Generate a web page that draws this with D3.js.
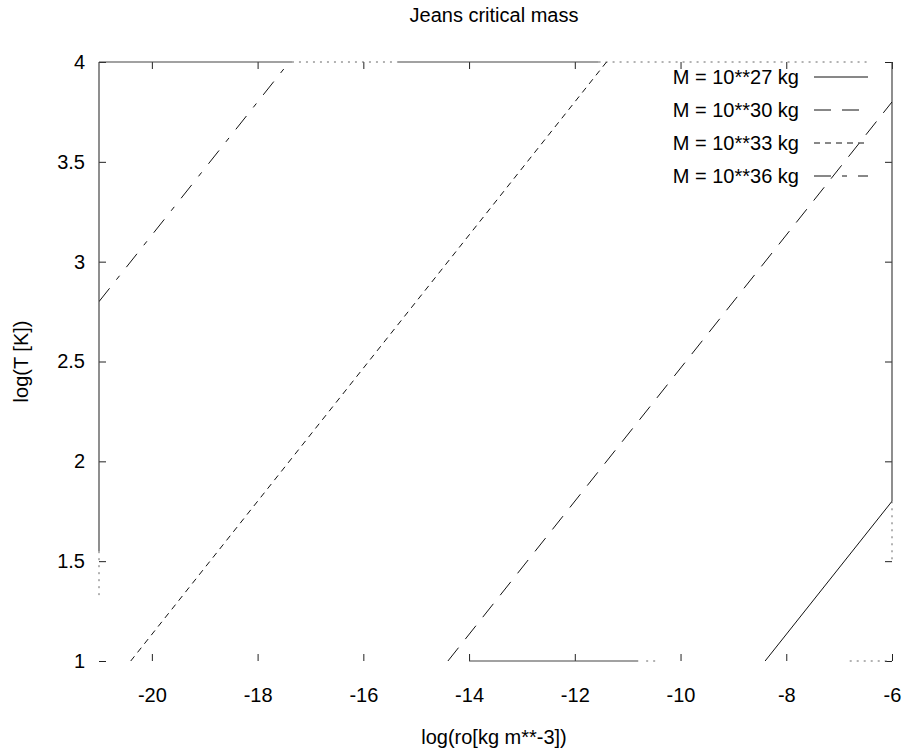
<!DOCTYPE html>
<html>
<head>
<meta charset="utf-8">
<script src="https://cdn.jsdelivr.net/npm/d3@7/dist/d3.min.js"></script>
<style>
  html, body { margin: 0; padding: 0; background: #fff; }
  svg text { font-family: "Liberation Sans", Arial, sans-serif; fill: #000; }
</style>
</head>
<body>
<div id="chart"></div>
<script>
// ---- data ----
const title = "Jeans critical mass";
const xLabel = "log(ro[kg m**-3])";
const yLabel = "log(T [K])";
const xTicks = [-20, -18, -16, -14, -12, -10, -8, -6];
const yTicks = [1, 1.5, 2, 2.5, 3, 3.5, 4];
const xDomain = [-21, -6];
const yDomain = [1, 4];
const seriesNames = ["M = 10**27 kg", "M = 10**30 kg", "M = 10**33 kg", "M = 10**36 kg"];
// endpoints of each line, [log rho, log T]
const m27 = [[-8.4, 1.0], [-6.0, 1.8]];
const m30 = [[-14.4, 1.0], [-6.0, 3.8]];
const m33 = [[-20.4, 1.0], [-11.4, 4.0]];
const m36 = [[-21.0, 2.8], [-17.4, 4.0]];
const seriesData = [m27, m30, m33, m36];

// pieces of the plot border that are visible in the picture (data units)
const frameSolid = [
  [[-21, 4], [-17.35, 4]], [[-15.35, 4], [-11.55, 4]],
  [[-6, 4], [-6, 1.8]],
  [[-21, 4], [-21, 1.55]],
  [[-14.0, 1], [-10.8, 1]]
];
const frameDotted = [
  [[-17.35, 4], [-15.35, 4]], [[-11.55, 4], [-6.4, 4]],
  [[-6, 1.8], [-6, 1.5]],
  [[-21, 1.55], [-21, 1.33]],
  [[-10.65, 1], [-10.45, 1]], [[-6.8, 1], [-6.0, 1]]
];

// ---- layout ----
const W = 906, H = 755;
const L = 99, R = 892, T = 62, B = 661;
const dashes = [null, "17,11", "6,5", "17,11,5,11"];

const svg = d3.select("#chart").append("svg").attr("width", W).attr("height", H);
const x = d3.scaleLinear().domain(xDomain).range([L, R]);
const y = d3.scaleLinear().domain(yDomain).range([B, T]);

svg.append("defs").append("clipPath").attr("id", "clip")
  .append("rect").attr("x", L).attr("y", T).attr("width", R - L).attr("height", B - T);

const tickLen = 7;
const fs = 20;
const fmt = d => String(d);
const gx = svg.append("g").attr("transform", `translate(0,${B})`)
  .call(d3.axisBottom(x).tickValues(xTicks).tickSize(-tickLen).tickPadding(27).tickFormat(fmt));
const gxt = svg.append("g").attr("transform", `translate(0,${T})`)
  .call(d3.axisTop(x).tickValues(xTicks).tickSize(-tickLen).tickFormat(""));
const gy = svg.append("g").attr("transform", `translate(${L},0)`)
  .call(d3.axisLeft(y).tickValues(yTicks).tickSize(-tickLen).tickPadding(14).tickFormat(fmt));
const gyr = svg.append("g").attr("transform", `translate(${R},0)`)
  .call(d3.axisRight(y).tickValues(yTicks).tickSize(-tickLen).tickFormat(""));
[gx, gxt, gy, gyr].forEach(g => {
  g.select(".domain").remove();
  g.selectAll("line").attr("stroke", "#222").attr("stroke-width", 1);
  g.selectAll("text").attr("font-size", fs).attr("font-family", "Liberation Sans, Arial, sans-serif").attr("fill", "#000");
});

// frame pieces
const seg = d3.line().x(d => x(d[0])).y(d => y(d[1]));
svg.append("g").selectAll("path").data(frameSolid).join("path")
  .attr("d", seg).attr("fill", "none").attr("stroke", "#444").attr("stroke-width", 1.2);
svg.append("g").selectAll("path").data(frameDotted).join("path")
  .attr("d", seg).attr("fill", "none").attr("stroke", "#666").attr("stroke-width", 1)
  .attr("stroke-dasharray", "2,5");

// lines
const line = d3.line().x(d => x(d[0])).y(d => y(d[1]));
svg.append("g").attr("clip-path", "url(#clip)")
  .selectAll("path").data(seriesData).join("path")
  .attr("d", line)
  .attr("fill", "none").attr("stroke", "#111").attr("stroke-width", 1)
  .attr("stroke-dasharray", (d, i) => dashes[i]);

// legend
const leg = svg.append("g");
seriesNames.forEach((name, i) => {
  const yy = 77 + i * 33;
  leg.append("text").attr("x", 799).attr("y", yy).attr("dy", "0.35em")
    .attr("text-anchor", "end").attr("font-size", fs).text(name);
  leg.append("line").attr("x1", 814).attr("x2", 868).attr("y1", yy).attr("y2", yy)
    .attr("stroke", "#111").attr("stroke-width", 1).attr("stroke-dasharray", dashes[i]);
});

// titles
svg.append("text").attr("x", 494).attr("y", 22).attr("text-anchor", "middle").attr("font-size", fs).text(title);
svg.append("text").attr("x", 494).attr("y", 744).attr("text-anchor", "middle").attr("font-size", fs).text(xLabel);
svg.append("text").attr("transform", `translate(28,${(T + B) / 2}) rotate(-90)`).attr("text-anchor", "middle")
  .attr("font-size", fs).text(yLabel);
</script>
</body>
</html>
